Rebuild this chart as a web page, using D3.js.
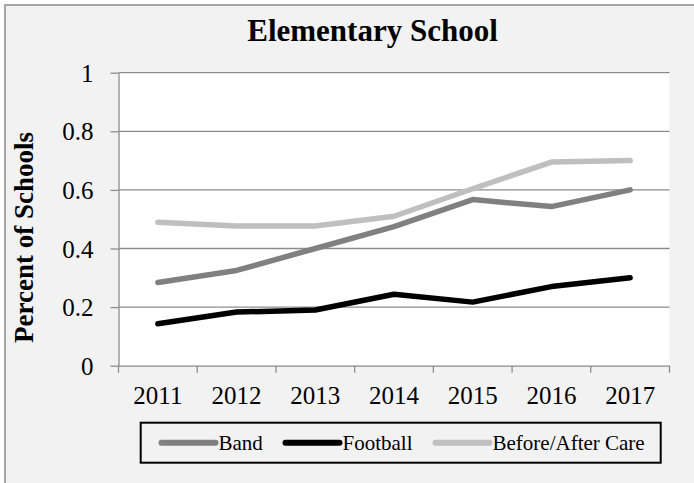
<!DOCTYPE html>
<html>
<head>
<meta charset="utf-8">
<script src="https://cdn.jsdelivr.net/npm/d3@7"></script>
<style>
  html, body { margin: 0; padding: 0; background: #ffffff; }
  svg { display: block; }
  text { font-family: "Liberation Serif", "Times New Roman", serif; fill: #000; }
</style>
</head>
<body>
<svg id="chart" width="694" height="483"></svg>
<script>
// Share of elementary schools offering each program, by year
const years = ["2011", "2012", "2013", "2014", "2015", "2016", "2017"];
const band = [0.284, 0.325, 0.400, 0.475, 0.567, 0.543, 0.600];
const football = [0.143, 0.183, 0.190, 0.244, 0.217, 0.270, 0.300];
const beforeAfterCare = [0.490, 0.477, 0.477, 0.510, 0.604, 0.695, 0.700];
const yTicks = [0, 0.2, 0.4, 0.6, 0.8, 1];

const seriesNames = ["Band", "Football", "Before/After Care"];
const seriesColors = ["#808080", "#000000", "#bfbfbf"];
const series = [band, football, beforeAfterCare].map((values, i) => ({
  name: seriesNames[i],
  color: seriesColors[i],
  values: values.map((v, j) => ({ year: years[j], value: v }))
}));

const serif = '"Liberation Serif", "Times New Roman", serif';
const svg = d3.select("#chart");

// Chart frame
svg.append("rect")
  .attr("x", 5).attr("y", 5)
  .attr("width", 720).attr("height", 500)
  .attr("fill", "#f2f2f2")
  .attr("stroke", "#a6a6a6")
  .attr("stroke-width", 2);

const plot = { left: 118.5, right: 669.5, top: 72.7, bottom: 365.7 };

const x = d3.scaleBand().domain(years).range([plot.left, plot.right]);
const y = d3.scaleLinear().domain([0, 1]).range([plot.bottom, plot.top]);

// Plot area background
svg.append("rect")
  .attr("x", plot.left).attr("y", plot.top)
  .attr("width", plot.right - plot.left)
  .attr("height", plot.bottom - plot.top)
  .attr("fill", "#ffffff");

// Horizontal gridlines
svg.append("g")
  .selectAll("line")
  .data(yTicks.filter(d => d > 0))
  .join("line")
  .attr("x1", plot.left).attr("x2", plot.right)
  .attr("y1", d => y(d)).attr("y2", d => y(d))
  .attr("stroke", "#8c8c8c")
  .attr("stroke-width", 1.3);

// Y axis
const yAxis = svg.append("g")
  .attr("transform", `translate(${plot.left},0)`)
  .call(d3.axisLeft(y)
    .tickValues(yTicks)
    .tickSize(8)
    .tickSizeOuter(0)
    .tickPadding(17)
    .tickFormat(d => String(+d.toFixed(1))));
yAxis.attr("font-family", null).attr("font-size", null);
yAxis.select(".domain").attr("stroke", "#8c8c8c").attr("stroke-width", 1.3);
yAxis.selectAll(".tick line").attr("stroke", "#8c8c8c").attr("stroke-width", 1.3);
yAxis.selectAll(".tick text")
  .style("font-family", serif)
  .style("font-size", "25px")
  .attr("dy", "0.34em");

// X axis: labels centred in each band, ticks on band boundaries
const xAxis = svg.append("g")
  .attr("transform", `translate(0,${plot.bottom})`)
  .call(d3.axisBottom(x).tickSize(0).tickSizeOuter(0).tickPadding(21));
xAxis.attr("font-family", null).attr("font-size", null);
xAxis.select(".domain").attr("stroke", "#8c8c8c").attr("stroke-width", 1.3);
xAxis.selectAll(".tick text")
  .style("font-family", serif)
  .style("font-size", "25px")
  .attr("dy", "0.71em");

const boundaries = years.map(d => x(d)).concat([x.range()[1]]);
svg.append("g")
  .selectAll("line")
  .data(boundaries)
  .join("line")
  .attr("x1", d => d).attr("x2", d => d)
  .attr("y1", plot.bottom).attr("y2", plot.bottom + 7)
  .attr("stroke", "#8c8c8c")
  .attr("stroke-width", 1.3);

// Series lines
const line = d3.line()
  .x(d => x(d.year) + x.bandwidth() / 2)
  .y(d => y(d.value));

svg.append("g")
  .selectAll("path")
  .data(series)
  .join("path")
  .attr("d", d => line(d.values))
  .attr("fill", "none")
  .attr("stroke", d => d.color)
  .attr("stroke-width", 5.5)
  .attr("stroke-linejoin", "round")
  .attr("stroke-linecap", "round");

// Title
svg.append("text")
  .attr("x", 372.5).attr("y", 40.5)
  .attr("text-anchor", "middle")
  .style("font-family", serif)
  .style("font-size", "31px")
  .style("font-weight", "bold")
  .text("Elementary School");

// Y axis title
svg.append("text")
  .attr("transform", "translate(33,237.5) rotate(-90)")
  .attr("text-anchor", "middle")
  .style("font-family", serif)
  .style("font-size", "27px")
  .style("font-weight", "bold")
  .text("Percent of Schools");

// Legend
const legend = svg.append("g");
legend.append("rect")
  .attr("x", 140.7).attr("y", 422.7)
  .attr("width", 520).attr("height", 40)
  .attr("fill", "none")
  .attr("stroke", "#000")
  .attr("stroke-width", 2);

const legendX = [161.5, 285.5, 435.5];
const legendItems = legend.selectAll("g.item")
  .data(series)
  .join("g")
  .attr("class", "item")
  .attr("transform", (d, i) => `translate(${legendX[i]},442.7)`);
legendItems.append("line")
  .attr("x1", 0).attr("x2", 54)
  .attr("y1", 0).attr("y2", 0)
  .attr("stroke", d => d.color)
  .attr("stroke-width", 6)
  .attr("stroke-linecap", "round");
legendItems.append("text")
  .attr("x", 57).attr("y", 7)
  .style("font-family", serif)
  .style("font-size", "21px")
  .text(d => d.name);
</script>
</body>
</html>
